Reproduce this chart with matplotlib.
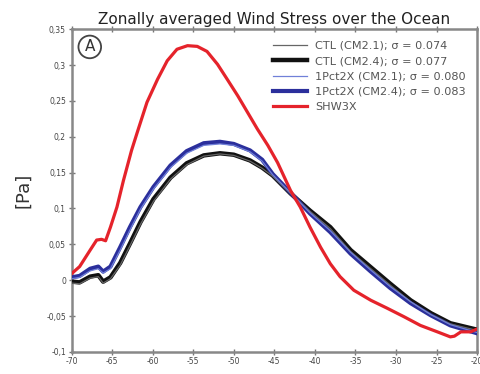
import numpy as np
import matplotlib
matplotlib.use("Agg")
import matplotlib.pyplot as plt
from matplotlib.ticker import FuncFormatter

# SHW3X run: latitude (deg) and zonal-mean wind stress (Pa)
lat_red = [-70, -69.0, -67.7, -66.9, -66.3, -65.8, -65.2, -64.4, -63.6, -62.6, -61.9, -60.7,
           -59.4, -58.2, -57.0, -55.7, -54.5, -53.3, -52.0, -50.8, -49.5, -48.3, -47.1, -45.8,
           -44.6, -43.0, -41.8, -40.6, -39.3, -38.1, -36.9, -35.2, -33.1, -31.1, -29.0, -27.0,
           -24.9, -23.3, -22.8, -22.0, -20.8, -20.0]
tau_red = [0.009, 0.019, 0.042, 0.056, 0.057, 0.055, 0.074, 0.102, 0.139, 0.181, 0.206, 0.248,
           0.280, 0.306, 0.322, 0.327, 0.326, 0.319, 0.301, 0.280, 0.257, 0.234, 0.211, 0.188,
           0.164, 0.125, 0.102, 0.074, 0.046, 0.023, 0.005, -0.014, -0.028, -0.039, -0.051, -0.063,
           -0.072, -0.079, -0.078, -0.072, -0.072, -0.068]

# CTL and 1Pct2X runs share one latitude grid
lat = [-70, -69.0, -67.7, -66.7, -66.1, -65.2, -64.0, -62.8, -61.5, -59.9, -57.8, -55.8,
       -53.7, -51.7, -50.0, -48.0, -46.5, -45.2, -43.0, -40.6, -38.1, -35.6, -33.1, -30.7,
       -28.2, -25.7, -23.3, -20.0]
tau_pct_cm24 = [0.004, 0.006, 0.016, 0.019, 0.012, 0.019, 0.046, 0.074, 0.102, 0.130, 0.160, 0.180,
                0.191, 0.193, 0.190, 0.181, 0.168, 0.148, 0.122, 0.093, 0.067, 0.037, 0.012, -0.011,
                -0.032, -0.049, -0.063, -0.074]
tau_pct_cm21 = [0.002, 0.004, 0.013, 0.016, 0.010, 0.016, 0.042, 0.070, 0.099, 0.127, 0.157, 0.177,
                0.188, 0.190, 0.188, 0.179, 0.166, 0.147, 0.122, 0.094, 0.069, 0.039, 0.014, -0.009,
                -0.030, -0.048, -0.062, -0.073]
tau_ctl_cm24 = [-0.002, -0.003, 0.005, 0.007, -0.002, 0.004, 0.024, 0.051, 0.081, 0.113, 0.143, 0.163,
                0.174, 0.177, 0.175, 0.167, 0.157, 0.146, 0.121, 0.097, 0.074, 0.042, 0.018, -0.005,
                -0.028, -0.046, -0.060, -0.069]
tau_ctl_cm21 = [-0.004, -0.005, 0.003, 0.005, -0.004, 0.002, 0.021, 0.048, 0.078, 0.110, 0.141, 0.161,
                0.173, 0.176, 0.174, 0.166, 0.156, 0.145, 0.121, 0.096, 0.072, 0.040, 0.016, -0.007,
                -0.030, -0.048, -0.061, -0.070]

labels = ["CTL (CM2.1); \u03c3 = 0.074", "CTL (CM2.4); \u03c3 = 0.077",
          "1Pct2X (CM2.1); \u03c3 = 0.080", "1Pct2X (CM2.4); \u03c3 = 0.083", "SHW3X"]

fig = plt.figure(figsize=(4.8, 3.74), dpi=100)
ax = fig.add_axes([0.149, 0.059, 0.845, 0.863])

ax.plot(lat, tau_ctl_cm24, color="#111111", lw=3.2, label=labels[1], zorder=3)
ax.plot(lat, tau_ctl_cm21, color="#666666", lw=0.9, label=labels[0], zorder=4)
ax.plot(lat, tau_pct_cm24, color="#2b2f9c", lw=3.0, label=labels[3], zorder=3)
ax.plot(lat, tau_pct_cm21, color="#7080d8", lw=0.9, label=labels[2], zorder=4)
ax.plot(lat_red, tau_red, color="#e5232b", lw=2.3, label=labels[4], zorder=5)

ax.set_xlim(-70, -20)
ax.set_ylim(-0.1, 0.35)
ax.set_xticks(np.arange(-70, -19, 5))
ax.set_yticks(np.arange(-0.1, 0.351, 0.05))
comma = FuncFormatter(lambda v, p: f"{round(v, 2):g}".replace(".", ","))
ax.xaxis.set_major_formatter(comma)
ax.yaxis.set_major_formatter(comma)
ax.tick_params(axis="both", labelsize=5.5, labelcolor="#444444", color="#777777",
               direction="inout", length=4, width=1, pad=2)
ax.tick_params(axis="x", top=True)
for s in ax.spines.values():
    s.set_color("#888888")
    s.set_linewidth(1.8)

ax.set_title("Zonally averaged Wind Stress over the Ocean", fontsize=11, color="#222222", pad=4)
ax.set_ylabel("[Pa]", fontsize=13, color="#333333", labelpad=10)

ax.text(0.045, 0.945, "A", transform=ax.transAxes, fontsize=11, color="#333333",
        ha="center", va="center",
        bbox=dict(boxstyle="circle,pad=0.25", fc="white", ec="#444444", lw=1.3))

handles, labs = ax.get_legend_handles_labels()
order = [labs.index(l) for l in labels]
leg = ax.legend([handles[i] for i in order], [labs[i] for i in order],
                loc="upper right", bbox_to_anchor=(1.0, 1.0), frameon=False,
                fontsize=8.1, handlelength=3.0, handletextpad=0.75,
                labelspacing=0.48, borderpad=0.72, borderaxespad=0.3)
for t in leg.get_texts():
    t.set_color("#555555")

fig.savefig("out.png", dpi=100)
